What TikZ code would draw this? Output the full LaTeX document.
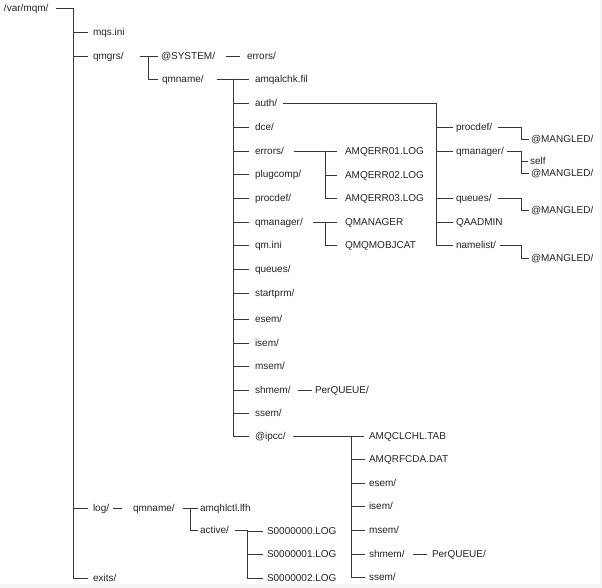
\documentclass[tikz,border=0pt]{standalone}
\usepackage{fontspec}
\setmainfont{Liberation Sans}
\definecolor{txtc}{RGB}{35,35,35}
\definecolor{linec}{RGB}{55,55,55}
\definecolor{edgec}{RGB}{244,244,244}
\begin{document}
\begin{tikzpicture}[x=1pt,y=-1pt,
  lbl/.style={anchor=west, inner sep=0pt, outer sep=0pt, font=\fontsize{10}{12}\selectfont,
              text height=7.2pt, text depth=0pt, text=txtc},
  conn/.style={draw=linec, line width=0.9pt}]
\useasboundingbox (0,0) rectangle (602,588);
\fill[edgec] (0,584) rectangle (602,588);
\fill[edgec] (600,0) rectangle (602,588);

% ---- nodes ----
\node[lbl] (root) at (4,8) {/var/mqm/};
\node[lbl] (mqsini) at (93,32) {mqs.ini};
\node[lbl] (qmgrs) at (93,56) {qmgrs/};
\node[lbl] (sys) at (161,56) {@SYSTEM/};
\node[lbl] (syserr) at (247,56) {errors/};
\node[lbl] (qmname) at (162,79) {qmname/};

\node[lbl] (amqalchk) at (255,79) {amqalchk.fil};
\node[lbl] (auth) at (255,103) {auth/};
\node[lbl] (dce) at (255,127) {dce/};
\node[lbl] (errors) at (255,151) {errors/};
\node[lbl] (plugcomp) at (255,174) {plugcomp/};
\node[lbl] (procdef) at (255,198) {procdef/};
\node[lbl] (qmanager) at (255,222) {qmanager/};
\node[lbl] (qmini) at (255,245) {qm.ini};
\node[lbl] (queues) at (255,269) {queues/};
\node[lbl] (startprm) at (255,293) {startprm/};
\node[lbl] (esem) at (255,319) {esem/};
\node[lbl] (isem) at (255,343) {isem/};
\node[lbl] (msem) at (255,366) {msem/};
\node[lbl] (shmem) at (255,390) {shmem/};
\node[lbl] (ssem) at (255,413) {ssem/};
\node[lbl] (ipcc) at (255,436) {@ipcc/};

\node[lbl] (aprocdef) at (456,127) {procdef/};
\node[lbl] (aqmanager) at (456,151) {qmanager/};
\node[lbl] (aqueues) at (456,198) {queues/};
\node[lbl] (qaadmin) at (456,222) {QAADMIN};
\node[lbl] (namelist) at (456,245) {namelist/};

\node[lbl] (mg1) at (531,139) {@MANGLED/};
\node[lbl] (self) at (530,161) {self};
\node[lbl] (mg2) at (531,173) {@MANGLED/};
\node[lbl] (mg3) at (531,210) {@MANGLED/};
\node[lbl] (mg4) at (531,258) {@MANGLED/};

\node[lbl] (err1) at (345,151) {AMQERR01.LOG};
\node[lbl] (err2) at (345,175) {AMQERR02.LOG};
\node[lbl] (err3) at (345,198) {AMQERR03.LOG};
\node[lbl] (qmgrf) at (345,222) {QMANAGER};
\node[lbl] (qmobj) at (345,245) {QMQMOBJCAT};

\node[lbl] (perq1) at (315,390) {PerQUEUE/};

\node[lbl] (clchl) at (369,436) {AMQCLCHL.TAB};
\node[lbl] (rfcda) at (369,459) {AMQRFCDA.DAT};
\node[lbl] (esem2) at (369,483) {esem/};
\node[lbl] (isem2) at (369,506) {isem/};
\node[lbl] (msem2) at (369,530) {msem/};
\node[lbl] (shmem2) at (369,554) {shmem/};
\node[lbl] (ssem2) at (369,577) {ssem/};
\node[lbl] (perq2) at (432,554) {PerQUEUE/};

\node[lbl] (log) at (93,508) {log/};
\node[lbl] (logqm) at (133,508) {qmname/};
\node[lbl] (amqhlctl) at (200,508) {amqhlctl.lfh};
\node[lbl] (active) at (200,530) {active/};
\node[lbl] (s0) at (267,531) {S0000000.LOG};
\node[lbl] (s1) at (267,554) {S0000001.LOG};
\node[lbl] (s2) at (267,578) {S0000002.LOG};
\node[lbl] (exits) at (93,578) {exits/};

% ---- junction coordinates ----
\coordinate (bRoot) at (73,8);
\coordinate (bQmgrs) at (148,56);
\coordinate (bQmname) at (233,79);
\coordinate (bAuth) at (436,103);
\coordinate (bAProc) at (521,127);
\coordinate (bAQm) at (521,151);
\coordinate (bAQu) at (521,198);
\coordinate (bANl) at (521,245);
\coordinate (bErr) at (325,151);
\coordinate (bQm) at (325,222);
\coordinate (bIpcc) at (351,436);
\coordinate (bLogQm) at (190,508);
\coordinate (bActive) at (247,530);

% ---- connectors ----
% root trunk
\draw[conn, shorten <=8pt, shorten >=5pt] (root.east) -- (bRoot) |- (exits.west);
\foreach \c in {mqsini,qmgrs,log}
  \draw[conn, shorten >=5pt] (bRoot) |- (\c.west);

% qmgrs
\draw[conn, shorten <=16pt, shorten >=3pt] (qmgrs.east) -- (sys.west);
\draw[conn, shorten >=4pt] (bQmgrs) |- (qmname.west);
\draw[conn, shorten <=11pt, shorten >=7pt] (sys.east) -- (syserr.west);

% qmname column
\draw[conn, shorten <=13pt, shorten >=6pt] (qmname.east) -- (amqalchk.west);
\foreach \c in {auth,dce,errors,plugcomp,procdef,qmanager,qmini,queues,startprm,esem,isem,msem,shmem,ssem,ipcc}
  \draw[conn, shorten >=6pt] (bQmname) |- (\c.west);

% auth
\draw[conn, shorten <=6pt] (auth.east) -- (bAuth);
\foreach \c in {aprocdef,aqmanager,aqueues,qaadmin,namelist}
  \draw[conn, shorten >=3pt] (bAuth) |- (\c.west);

\draw[conn, shorten <=6pt, shorten >=2pt] (aprocdef.east) -- (bAProc) |- (mg1.west);
\draw[conn, shorten <=3pt, shorten >=2pt] (aqmanager.east) -- (bAQm) |- (mg2.west);
\draw[conn, shorten >=2pt] (bAQm) |- (self.west);
\draw[conn, shorten <=6pt, shorten >=2pt] (aqueues.east) -- (bAQu) |- (mg3.west);
\draw[conn, shorten <=4pt, shorten >=2pt] (namelist.east) -- (bANl) |- (mg4.west);

% errors
\draw[conn, shorten <=10pt, shorten >=8pt] (errors.east) -- (err1.west);
\foreach \c in {err2,err3}
  \draw[conn, shorten >=8pt] (bErr) |- (\c.west);

% qmanager
\draw[conn, shorten <=10pt, shorten >=8pt] (qmanager.east) -- (qmgrf.west);
\draw[conn, shorten >=8pt] (bQm) |- (qmobj.west);

% shmem
\draw[conn, shorten <=7pt, shorten >=3pt] (shmem.east) -- (perq1.west);

% ipcc
\draw[conn, shorten <=7pt, shorten >=5pt] (ipcc.east) -- (clchl.west);
\foreach \c in {rfcda,esem2,isem2,msem2,shmem2,ssem2}
  \draw[conn, shorten >=4pt] (bIpcc) |- (\c.west);
\draw[conn, shorten <=8pt, shorten >=5pt] (shmem2.east) -- (perq2.west);

% log
\draw[conn, shorten <=4pt, shorten >=11pt] (log.east) -- (logqm.west);
\draw[conn, shorten <=8pt, shorten >=2pt] (logqm.east) -- (amqhlctl.west);
\draw[conn, shorten >=2pt] (bLogQm) |- (active.west);
\draw[conn, shorten <=6pt, shorten >=4pt] (active.east) -- (bActive) |- (s0.west);
\foreach \c in {s1,s2}
  \draw[conn, shorten >=4pt] (bActive) |- (\c.west);
\end{tikzpicture}
\end{document}
